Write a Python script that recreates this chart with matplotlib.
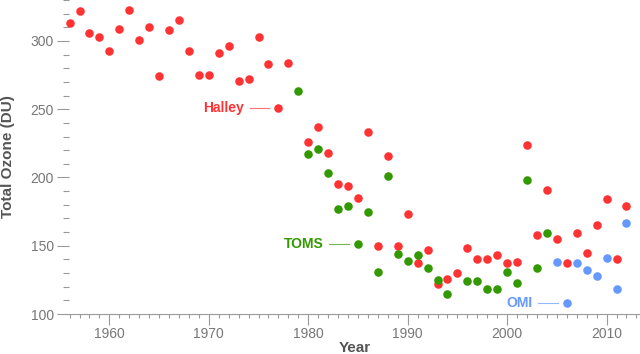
import matplotlib
matplotlib.use('Agg')
import matplotlib.pyplot as plt
from matplotlib.ticker import MultipleLocator

plt.rcParams['font.family'] = ['Liberation Sans', 'DejaVu Sans']

# Halley station (no value for 1979)
halley_years = [1956, 1957, 1958, 1959, 1960, 1961, 1962, 1963, 1964, 1965,
                1966, 1967, 1968, 1969, 1970, 1971, 1972, 1973, 1974, 1975,
                1976, 1977, 1978, 1980, 1981, 1982, 1983, 1984, 1985, 1986,
                1987, 1988, 1989, 1990, 1991, 1992, 1993, 1994, 1995, 1996,
                1997, 1998, 1999, 2000, 2001, 2002, 2003, 2004, 2005, 2006,
                2007, 2008, 2009, 2010, 2011, 2012]
halley_ozone = [313, 322, 306, 303, 293, 309, 323, 301, 310, 274,
                308, 315, 293, 275, 275, 291, 296, 271, 272, 303,
                283, 251, 284, 226, 237, 218, 195, 194, 185, 233,
                150, 216, 150, 173, 137, 147, 122, 126, 130, 148,
                140, 140, 143, 137, 138, 224, 158, 191, 155, 137,
                159, 145, 165, 184, 140, 179]

# TOMS satellite (no value for 1995)
toms_years = [1979, 1980, 1981, 1982, 1983, 1984, 1985, 1986, 1987, 1988,
              1989, 1990, 1991, 1992, 1993, 1994, 1996, 1997, 1998, 1999,
              2000, 2001, 2002, 2003, 2004]
toms_ozone = [263, 217, 221, 203, 177, 179, 151, 175, 131, 201,
              144, 139, 143, 134, 125, 115, 124, 124, 118, 118,
              131, 123, 198, 134, 159]

# OMI satellite
omi_years = [2005, 2006, 2007, 2008, 2009, 2010, 2011, 2012]
omi_ozone = [138, 108, 137, 132, 128, 141, 118, 167]

red = '#ff3333'
green = '#339900'
blue = '#6699ff'
axis_grey = '#999999'
text_grey = '#777777'

fig = plt.figure(figsize=(6.4, 3.54), dpi=100)
ax = fig.add_axes([69 / 640, 40 / 354, 571 / 640, 314 / 354])

ax.scatter(halley_years, halley_ozone, s=38, color=red, linewidths=0, clip_on=False, zorder=3)
ax.scatter(toms_years, toms_ozone, s=38, color=green, linewidths=0, clip_on=False, zorder=3)
ax.scatter(omi_years, omi_ozone, s=38, color=blue, linewidths=0, clip_on=False, zorder=3)

# series labels with a short leader line, next to one point each
labels = [('Halley', 1977, 251, red), ('TOMS', 1985, 151, green), ('OMI', 2006, 108, blue)]
for name, yr, val, col in labels:
    ax.plot([yr - 2.9, yr - 0.9], [val, val], color=col, lw=0.8, alpha=0.7)
    ax.text(yr - 3.5, val, name, color=col, fontsize=10, fontweight='bold',
            ha='right', va='center')

ax.set_xlim(1955.94, 2013.36)
ax.set_ylim(100, 330)

for side in ['top', 'right', 'left']:
    ax.spines[side].set_visible(False)
ax.spines['bottom'].set_color(axis_grey)
ax.spines['bottom'].set_linewidth(0.8)

ax.xaxis.set_major_locator(MultipleLocator(10))
ax.xaxis.set_minor_locator(MultipleLocator(1))
ax.yaxis.set_major_locator(MultipleLocator(50))
ax.yaxis.set_minor_locator(MultipleLocator(10))

ax.tick_params(axis='x', which='major', length=8, width=0.8, color=axis_grey,
               labelcolor=text_grey, labelsize=10, pad=1)
ax.tick_params(axis='x', which='minor', length=3, width=0.8, color=axis_grey)
ax.tick_params(axis='y', which='major', length=9, width=0.8, color=axis_grey,
               labelcolor=text_grey, labelsize=10, pad=2)
ax.tick_params(axis='y', which='minor', length=4, width=0.8, color=axis_grey)

ax.set_xlabel('Year', fontsize=11, fontweight='bold', color='#555555', labelpad=0)
ax.set_ylabel('Total Ozone (DU)', fontsize=11, fontweight='bold', color='#555555', labelpad=11)

fig.savefig('out.png', dpi=100)
